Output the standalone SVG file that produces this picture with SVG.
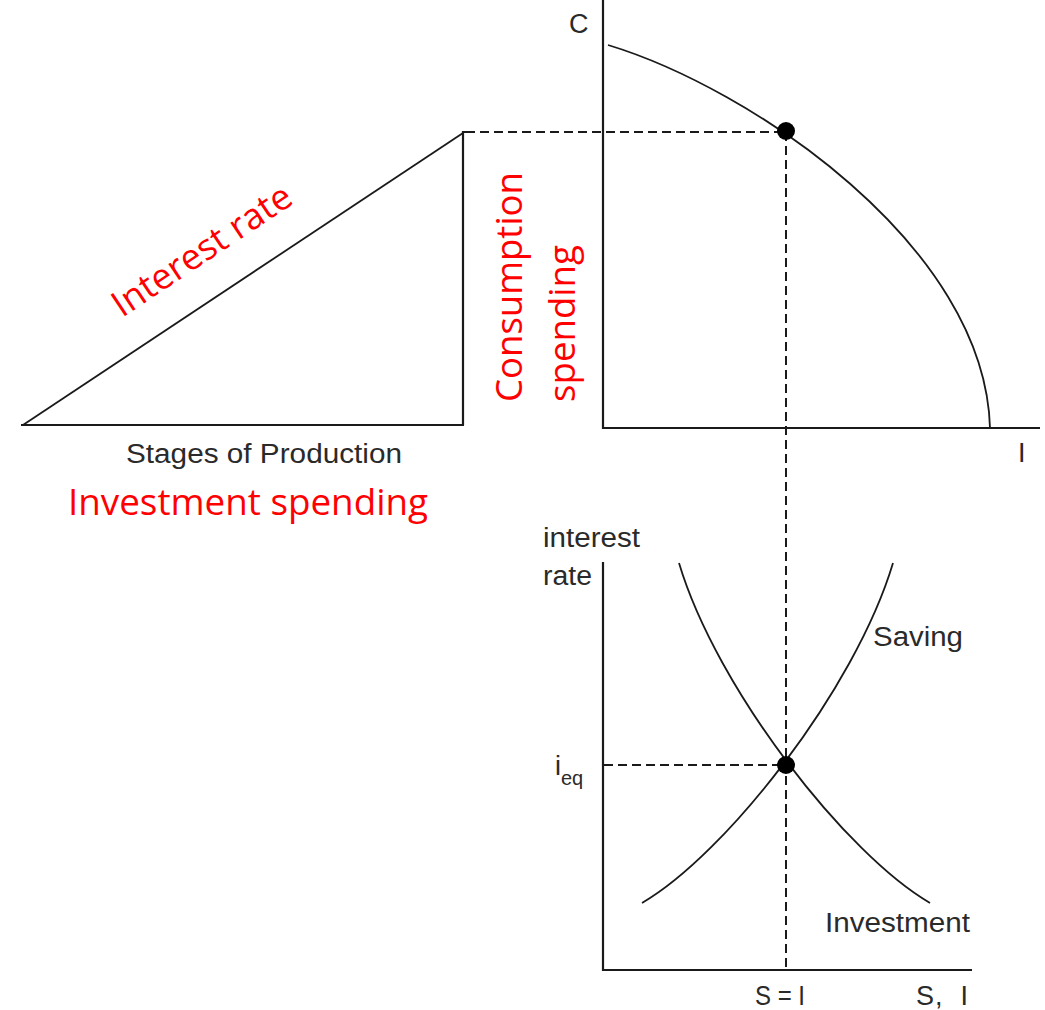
<svg xmlns="http://www.w3.org/2000/svg" width="1045" height="1010" viewBox="0 0 1045 1010">
<style>
.ax{stroke:#1a1a1a;stroke-width:2.2;fill:none}
.cv{stroke:#1a1a1a;stroke-width:1.8;fill:none}
.dash{stroke:#1a1a1a;stroke-width:2;fill:none;stroke-dasharray:9 5}
.lbl{font-family:"Liberation Sans",Arial,sans-serif;font-size:27px;fill:#2a2a2a}
.red{font-family:"Open Sans","Noto Sans",sans-serif;font-size:36px;fill:#ff0000}
.dot{fill:#000}
</style>
<rect width="1045" height="1010" fill="#fff"/>
<g id="triangle">
<path class="ax" d="M21,425 L464,425 M463,425 L463,132 L466,132"/>
<path class="cv" d="M23,425 L463,133"/>
</g>
<g id="ppf-axes">
<path class="ax" d="M603,0 L603,428 L1040,428"/>
<path class="cv" d="M608,45 C750,88 985,245 990,428"/>
</g>
<g id="si-axes">
<path class="ax" d="M603,562 L603,970 L972,970"/>
<path class="cv" d="M642,903 C725,855 855,690 893,563"/>
<path class="cv" d="M679,563 C717,690 847,855 930,903"/>
</g>
<g id="connectors">
<path class="dash" d="M466,132 L786,132"/>
<path class="dash" d="M786,132 L786,970"/>
<path class="dash" d="M604,765 L786,765"/>
</g>
<g id="points">
<circle class="dot" cx="786" cy="131" r="9"/>
<circle class="dot" cx="786" cy="765" r="9"/>
</g>
<g id="labels">
<text class="lbl" x="569" y="33">C</text>
<text class="lbl" x="1018" y="462">I</text>
<text class="lbl" x="126" y="463" textLength="276" lengthAdjust="spacingAndGlyphs">Stages of Production</text>
<text class="lbl" x="543" y="547" textLength="97" lengthAdjust="spacingAndGlyphs">interest</text>
<text class="lbl" x="543" y="585" textLength="49" lengthAdjust="spacingAndGlyphs">rate</text>
<text class="lbl" x="555" y="775">i<tspan font-size="20" dy="10">eq</tspan></text>
<text class="lbl" x="873" y="646" textLength="90" lengthAdjust="spacingAndGlyphs">Saving</text>
<text class="lbl" x="825" y="932" textLength="145" lengthAdjust="spacingAndGlyphs">Investment</text>
<text class="lbl" x="755" y="1005" font-size="24" textLength="50" lengthAdjust="spacingAndGlyphs">S = I</text>
<text class="lbl" x="916" y="1005" font-size="27" xml:space="preserve" textLength="52" lengthAdjust="spacing">S,  I</text>
</g>
<g id="red-labels">
<text class="red" x="68" y="515" textLength="360" lengthAdjust="spacingAndGlyphs">Investment spending</text>
<text class="red" transform="translate(122,318) rotate(-33.66)" textLength="208" lengthAdjust="spacingAndGlyphs">Interest rate</text>
<text class="red" transform="translate(522,402) rotate(-90)" textLength="230" lengthAdjust="spacingAndGlyphs">Consumption</text>
<text class="red" transform="translate(575,402) rotate(-90)" textLength="157" lengthAdjust="spacingAndGlyphs">spending</text>
</g>
</svg>
